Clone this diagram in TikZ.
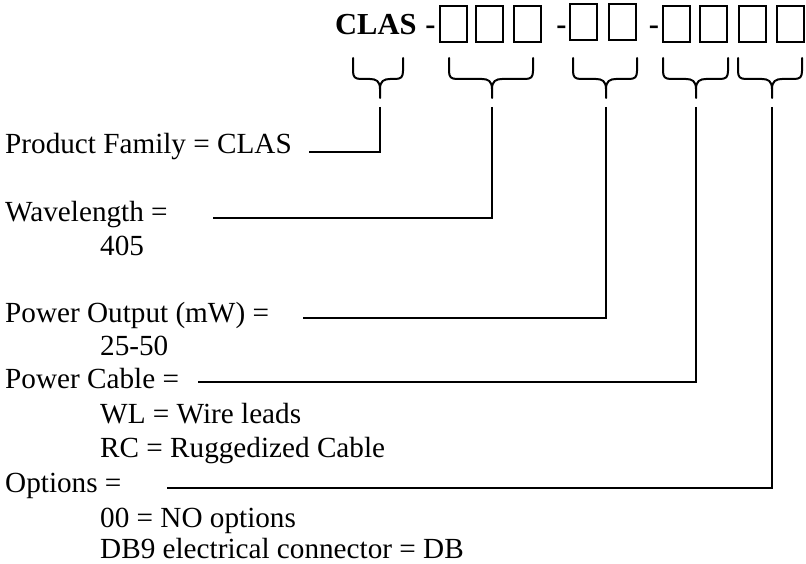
\documentclass[tikz,border=0pt]{standalone}
\usepackage{fontspec}
\setmainfont{Liberation Serif}
\begin{document}
\begin{tikzpicture}[x=1pt,y=-1pt,
  lbl/.style={anchor=base west,inner sep=0pt,font=\fontsize{29.2}{35}\selectfont},
  hdr/.style={anchor=base west,inner sep=0pt,font=\fontsize{30.5}{36}\selectfont\bfseries},
  slot/.style={draw,line width=2pt,minimum width=27pt,minimum height=36pt,inner sep=0pt},
  bracestyle/.style={line width=2pt,line cap=round,line join=round},
  wire/.style={line width=2.2pt}]
\useasboundingbox (0,0) rectangle (806,564);
% header
\node[hdr] (clas) at (335,35) {CLAS};
\node[hdr,anchor=base] (d1) at (430.5,35) {-};
\node[hdr,anchor=base] (d2) at (561.5,35) {-};
\node[hdr,anchor=base] (d3) at (654,35) {-};
\node[slot] (b1) at (453.5,24) {};
\node[slot] (b2) at (489.5,24) {};
\node[slot] (b3) at (527.5,24) {};
\node[slot] (b4) at (583,22.5) {};
\node[slot] (b5) at (622,22.5) {};
\node[slot] (b6) at (676,24) {};
\node[slot] (b7) at (713.5,24) {};
\node[slot] (b8) at (752.5,24) {};
\node[slot] (b9) at (790.5,24) {};
% braces
\newcommand\mybrace[4]{%
  \draw[bracestyle] (#1,58) -- (#1,71) .. controls (#1,77) and (#1+2,79) .. (#1+8,79)
     -- (#2-10,79) .. controls (#2-4,79) and (#2,81) .. (#2,89) -- (#2,98);
  \draw[bracestyle] (#3,58) -- (#3,71) .. controls (#3,77) and (#3-2,79) .. (#3-8,79)
     -- (#2+10,79) .. controls (#2+4,79) and (#2,81) .. (#2,89);
  \coordinate (#4) at (#2,107);}
\mybrace{353}{380}{403}{t1}
\mybrace{449}{492}{533}{t2}
\mybrace{573}{606}{637}{t3}
\mybrace{663}{696}{728}{t4}
\mybrace{738}{772}{802}{t5}
% labels
\node[lbl] (pf) at (5,154) {Product Family = CLAS};
\node[lbl] (wl) at (5,222) {Wavelength =};
\node[lbl] (wlv) at (100,255) {405};
\node[lbl] (po) at (5,322) {Power Output (mW) =};
\node[lbl] (pov) at (100,355) {25-50};
\node[lbl] (pc) at (5,388) {Power Cable =};
\node[lbl] (pc1) at (100,423) {WL = Wire leads};
\node[lbl] (pc2) at (100,457) {RC = Ruggedized Cable};
\node[lbl] (op) at (5,492) {Options =};
\node[lbl] (op1) at (100,527) {00 = NO options};
\node[lbl] (op2) at (100,558) {DB9 electrical connector = DB};
% line ends
\coordinate (e1) at (309,152);
\coordinate (e2) at (213,218);
\coordinate (e3) at (303,318);
\coordinate (e4) at (198,382);
\coordinate (e5) at (167,488);
\draw[wire] (t1) |- (e1);
\draw[wire] (t2) |- (e2);
\draw[wire] (t3) |- (e3);
\draw[wire] (t4) |- (e4);
\draw[wire] (t5) |- (e5);
\end{tikzpicture}
\end{document}
